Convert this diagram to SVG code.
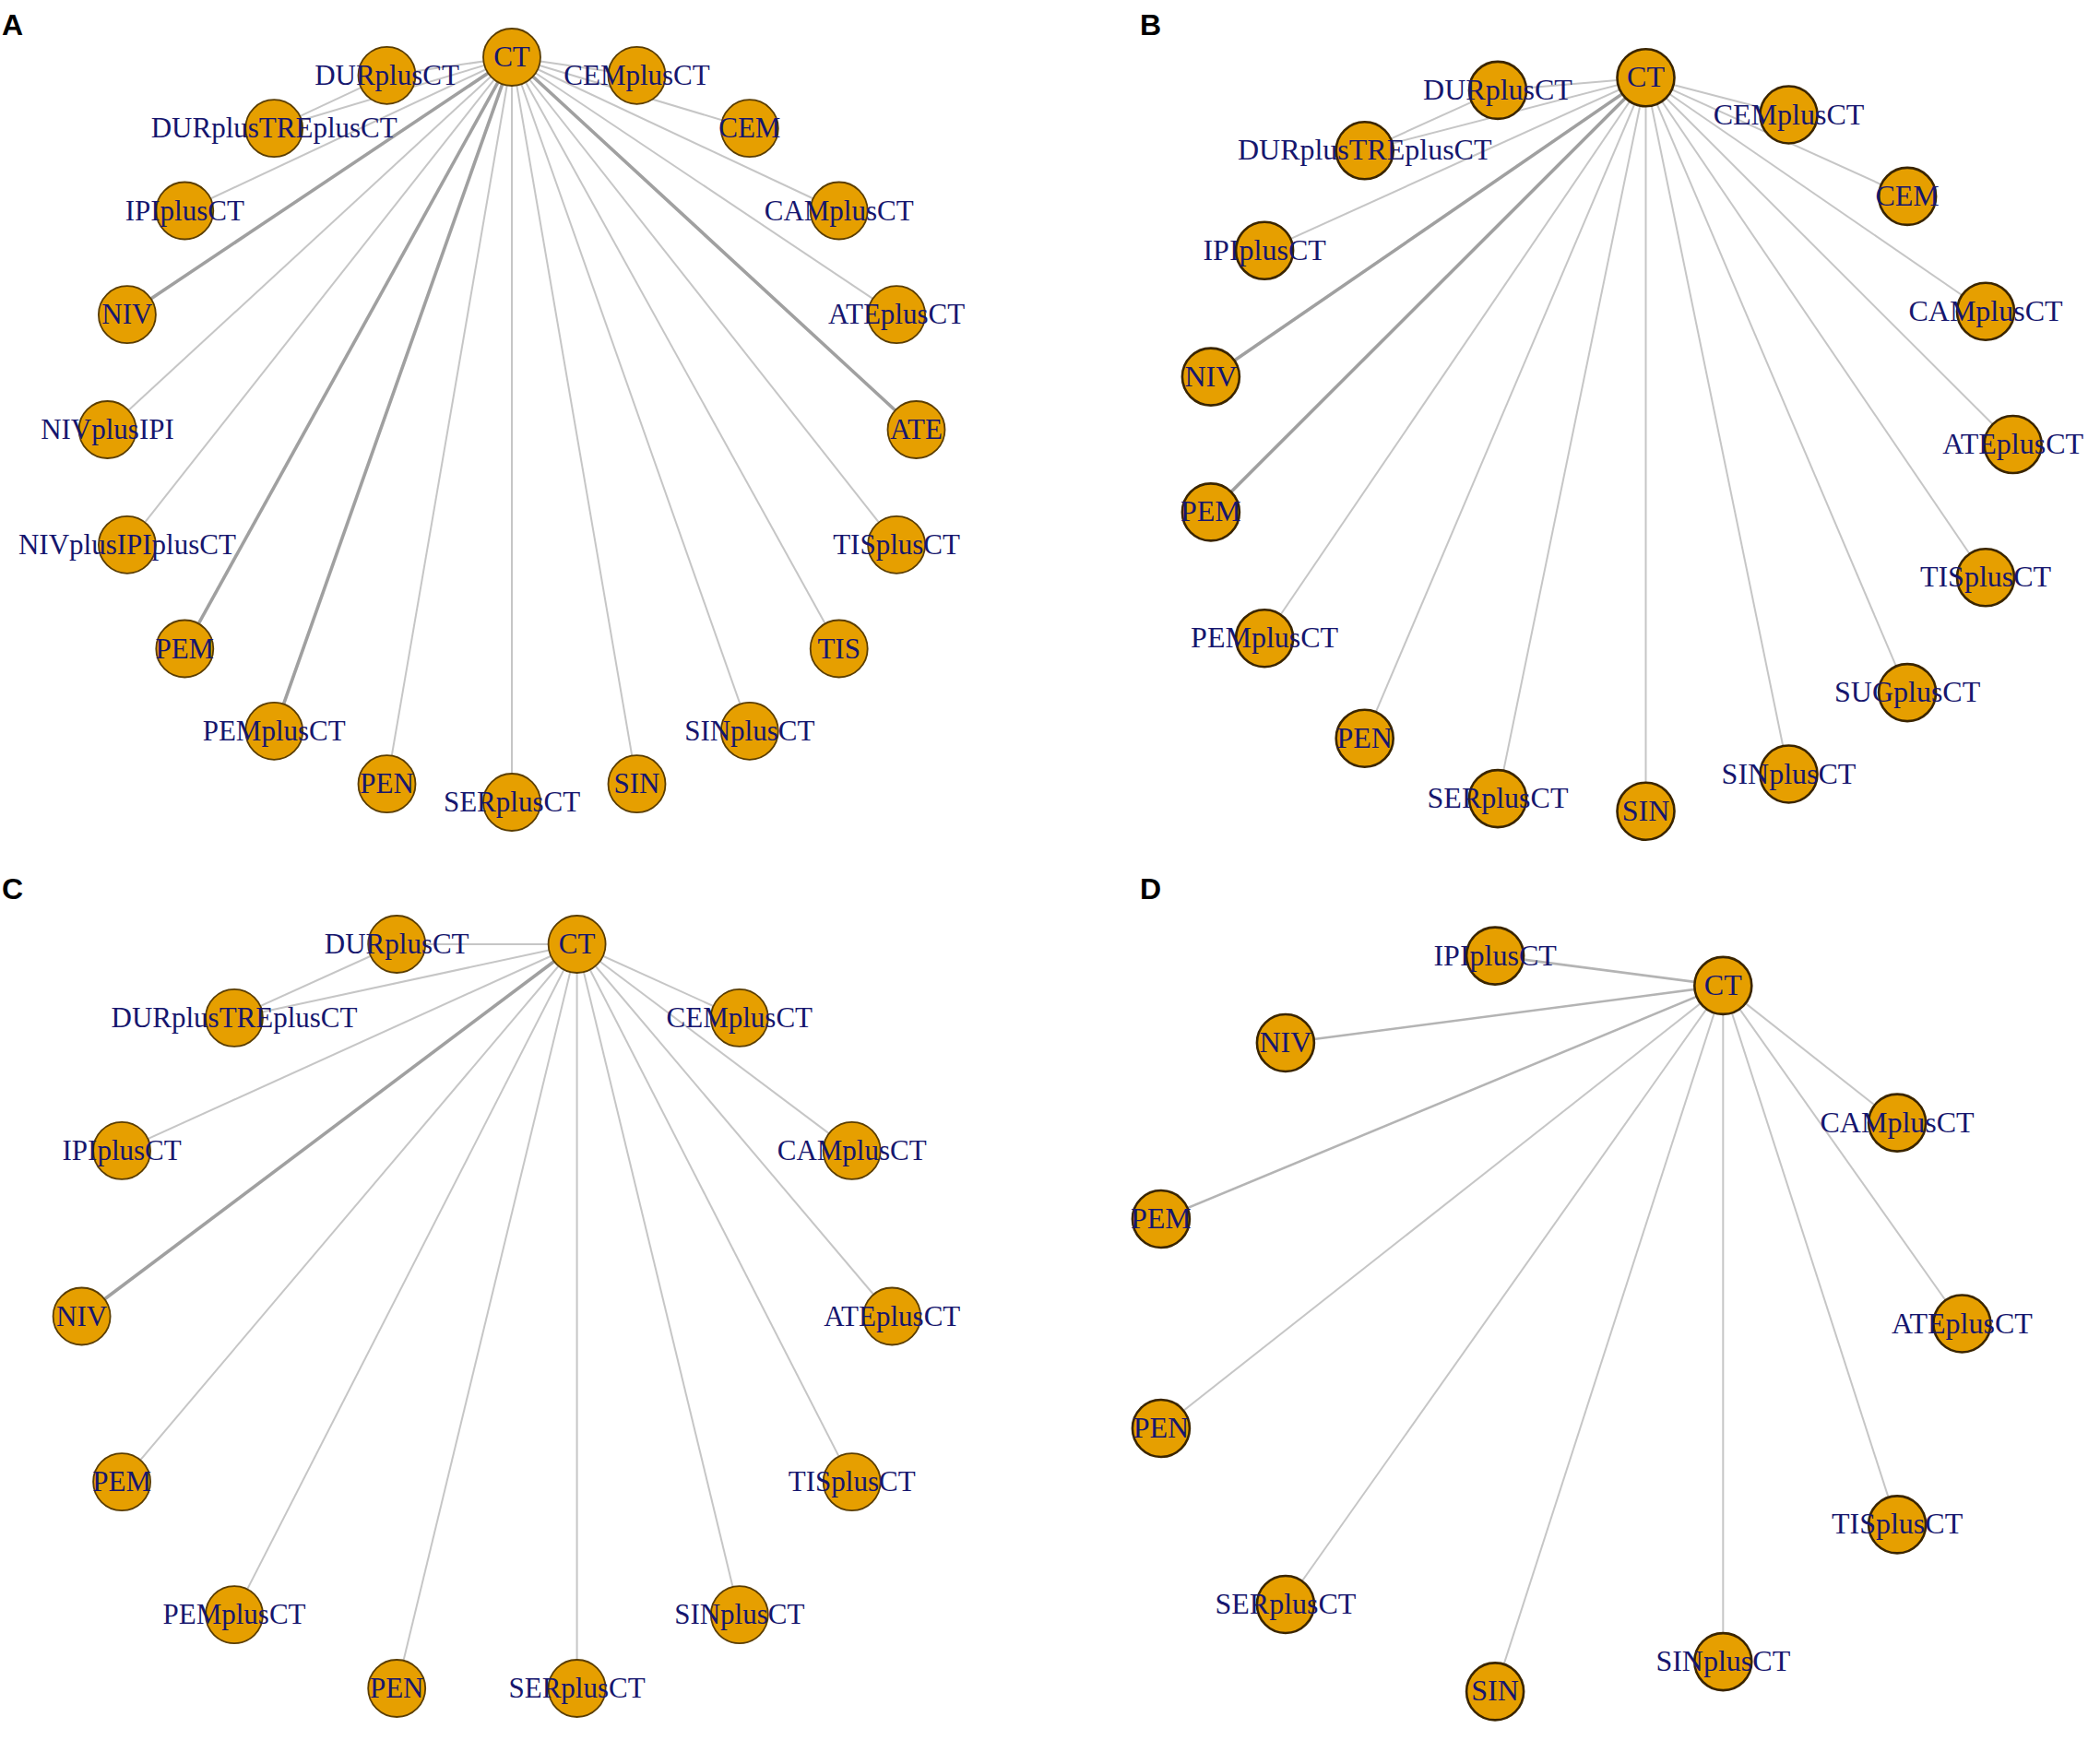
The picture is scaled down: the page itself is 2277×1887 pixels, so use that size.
<svg xmlns="http://www.w3.org/2000/svg" width="2277" height="1887" viewBox="0 0 2277 1887">
<style>
.bg{fill:#ffffff}
.e{stroke:#c6c6c6;stroke-width:2;fill:none}
.et{stroke:#a0a0a0;stroke-width:3.6;fill:none}
.em{stroke:#b4b4b4;stroke-width:2.6;fill:none}
.n{fill:#E69F00;stroke:#5a3d00;stroke-width:1.8}
.n2{fill:#E69F00;stroke:#3a2500;stroke-width:2.6}
.t{font-family:"Liberation Serif","Times New Roman",serif;font-size:31px;fill:#16166e;text-anchor:middle}
.t2{font-family:"Liberation Serif","Times New Roman",serif;font-size:32px;fill:#16166e;text-anchor:middle}
.p{font-family:"Liberation Sans",Arial,sans-serif;font-size:32px;font-weight:bold;fill:#000000}
</style>
<rect class="bg" x="0" y="0" width="2277" height="1887"/>
<g id="panel-labels">
<text class="p" x="2" y="38">A</text>
<text class="p" x="1236" y="38">B</text>
<text class="p" x="2" y="975">C</text>
<text class="p" x="1236" y="975">D</text>
</g>
<g id="connectors">
<g id="edges-A">
<line class="et" x1="555" y1="62" x2="993.5" y2="466"/>
<line class="e" x1="555" y1="62" x2="972.1" y2="341.2"/>
<line class="e" x1="555" y1="62" x2="909.7" y2="228.5"/>
<line class="e" x1="555" y1="62" x2="812.8" y2="139.2"/>
<line class="e" x1="555" y1="62" x2="690.5" y2="81.8"/>
<line class="e" x1="555" y1="62" x2="419.5" y2="81.8"/>
<line class="e" x1="555" y1="62" x2="297.2" y2="139.2"/>
<line class="e" x1="419.5" y1="81.8" x2="297.2" y2="139.2"/>
<line class="e" x1="555" y1="62" x2="200.3" y2="228.5"/>
<line class="et" x1="555" y1="62" x2="137.9" y2="341.2"/>
<line class="e" x1="555" y1="62" x2="116.5" y2="466"/>
<line class="e" x1="555" y1="62" x2="137.9" y2="590.8"/>
<line class="et" x1="555" y1="62" x2="200.3" y2="703.5"/>
<line class="et" x1="555" y1="62" x2="297.2" y2="792.8"/>
<line class="e" x1="555" y1="62" x2="419.5" y2="850.2"/>
<line class="e" x1="555" y1="62" x2="555" y2="870"/>
<line class="e" x1="555" y1="62" x2="690.5" y2="850.2"/>
<line class="e" x1="555" y1="62" x2="812.8" y2="792.8"/>
<line class="e" x1="555" y1="62" x2="909.7" y2="703.5"/>
<line class="e" x1="555" y1="62" x2="972.1" y2="590.8"/>
</g>
<g id="edges-B">
<line class="e" x1="1784.5" y1="84.3" x2="2182.6" y2="482"/>
<line class="e" x1="1784.5" y1="84.3" x2="2153" y2="337.7"/>
<line class="e" x1="1784.5" y1="84.3" x2="2068.1" y2="212.9"/>
<line class="e" x1="1784.5" y1="84.3" x2="1939.5" y2="124.5"/>
<line class="e" x1="1784.5" y1="84.3" x2="1624" y2="97.9"/>
<line class="e" x1="1784.5" y1="84.3" x2="1479.7" y2="163.3"/>
<line class="e" x1="1624" y1="97.9" x2="1479.7" y2="163.3"/>
<line class="e" x1="1784.5" y1="84.3" x2="1371.1" y2="271.8"/>
<line class="et" x1="1784.5" y1="84.3" x2="1312.9" y2="408.6"/>
<line class="et" x1="1784.5" y1="84.3" x2="1312.9" y2="555.4"/>
<line class="e" x1="1784.5" y1="84.3" x2="1371.1" y2="692.2"/>
<line class="e" x1="1784.5" y1="84.3" x2="1479.7" y2="800.7"/>
<line class="e" x1="1784.5" y1="84.3" x2="1624" y2="866.1"/>
<line class="e" x1="1784.5" y1="84.3" x2="1784.5" y2="879.7"/>
<line class="e" x1="1784.5" y1="84.3" x2="1939.5" y2="839.5"/>
<line class="e" x1="1784.5" y1="84.3" x2="2068.1" y2="751.1"/>
<line class="e" x1="1784.5" y1="84.3" x2="2153" y2="626.3"/>
</g>
<g id="edges-C">
<line class="e" x1="625.6" y1="1024" x2="967.2" y2="1427.5"/>
<line class="e" x1="625.6" y1="1024" x2="923.7" y2="1247.9"/>
<line class="e" x1="625.6" y1="1024" x2="801.8" y2="1103.9"/>
<line class="e" x1="625.6" y1="1024" x2="430.2" y2="1024"/>
<line class="e" x1="625.6" y1="1024" x2="254" y2="1103.9"/>
<line class="e" x1="430.2" y1="1024" x2="254" y2="1103.9"/>
<line class="e" x1="625.6" y1="1024" x2="132.1" y2="1247.9"/>
<line class="et" x1="625.6" y1="1024" x2="88.6" y2="1427.5"/>
<line class="e" x1="625.6" y1="1024" x2="132.1" y2="1607.1"/>
<line class="e" x1="625.6" y1="1024" x2="254" y2="1751.1"/>
<line class="e" x1="625.6" y1="1024" x2="430.2" y2="1831"/>
<line class="e" x1="625.6" y1="1024" x2="625.6" y2="1831"/>
<line class="e" x1="625.6" y1="1024" x2="801.8" y2="1751.1"/>
<line class="e" x1="625.6" y1="1024" x2="923.7" y2="1607.1"/>
</g>
<g id="edges-D">
<line class="e" x1="1868.3" y1="1068.9" x2="2127.4" y2="1435.5"/>
<line class="e" x1="1868.3" y1="1068.9" x2="2057.1" y2="1217.6"/>
<line class="em" x1="1868.3" y1="1068.9" x2="1621.1" y2="1036.6"/>
<line class="em" x1="1868.3" y1="1068.9" x2="1393.9" y2="1131"/>
<line class="em" x1="1868.3" y1="1068.9" x2="1258.9" y2="1322"/>
<line class="e" x1="1868.3" y1="1068.9" x2="1258.9" y2="1549"/>
<line class="e" x1="1868.3" y1="1068.9" x2="1393.9" y2="1740"/>
<line class="e" x1="1868.3" y1="1068.9" x2="1621.1" y2="1834.4"/>
<line class="e" x1="1868.3" y1="1068.9" x2="1868.3" y2="1802.1"/>
<line class="e" x1="1868.3" y1="1068.9" x2="2057.1" y2="1653.4"/>
</g>
</g>
<g id="A-ATE"><circle class="n" cx="993.5" cy="466" r="31"/><text class="t" x="993.5" y="476">ATE</text></g>
<g id="A-ATEplusCT"><circle class="n" cx="972.1" cy="341.2" r="31"/><text class="t" x="972.1" y="351.2">ATEplusCT</text></g>
<g id="A-CAMplusCT"><circle class="n" cx="909.7" cy="228.5" r="31"/><text class="t" x="909.7" y="238.5">CAMplusCT</text></g>
<g id="A-CEM"><circle class="n" cx="812.8" cy="139.2" r="31"/><text class="t" x="812.8" y="149.2">CEM</text></g>
<g id="A-CEMplusCT"><circle class="n" cx="690.5" cy="81.8" r="31"/><text class="t" x="690.5" y="91.8">CEMplusCT</text></g>
<g id="A-CT"><circle class="n" cx="555" cy="62" r="31"/><text class="t" x="555" y="72">CT</text></g>
<g id="A-DURplusCT"><circle class="n" cx="419.5" cy="81.8" r="31"/><text class="t" x="419.5" y="91.8">DURplusCT</text></g>
<g id="A-DURplusTREplusCT"><circle class="n" cx="297.2" cy="139.2" r="31"/><text class="t" x="297.2" y="149.2">DURplusTREplusCT</text></g>
<g id="A-IPIplusCT"><circle class="n" cx="200.3" cy="228.5" r="31"/><text class="t" x="200.3" y="238.5">IPIplusCT</text></g>
<g id="A-NIV"><circle class="n" cx="137.9" cy="341.2" r="31"/><text class="t" x="137.9" y="351.2">NIV</text></g>
<g id="A-NIVplusIPI"><circle class="n" cx="116.5" cy="466" r="31"/><text class="t" x="116.5" y="476">NIVplusIPI</text></g>
<g id="A-NIVplusIPIplusCT"><circle class="n" cx="137.9" cy="590.8" r="31"/><text class="t" x="137.9" y="600.8">NIVplusIPIplusCT</text></g>
<g id="A-PEM"><circle class="n" cx="200.3" cy="703.5" r="31"/><text class="t" x="200.3" y="713.5">PEM</text></g>
<g id="A-PEMplusCT"><circle class="n" cx="297.2" cy="792.8" r="31"/><text class="t" x="297.2" y="802.8">PEMplusCT</text></g>
<g id="A-PEN"><circle class="n" cx="419.5" cy="850.2" r="31"/><text class="t" x="419.5" y="860.2">PEN</text></g>
<g id="A-SERplusCT"><circle class="n" cx="555" cy="870" r="31"/><text class="t" x="555" y="880">SERplusCT</text></g>
<g id="A-SIN"><circle class="n" cx="690.5" cy="850.2" r="31"/><text class="t" x="690.5" y="860.2">SIN</text></g>
<g id="A-SINplusCT"><circle class="n" cx="812.8" cy="792.8" r="31"/><text class="t" x="812.8" y="802.8">SINplusCT</text></g>
<g id="A-TIS"><circle class="n" cx="909.7" cy="703.5" r="31"/><text class="t" x="909.7" y="713.5">TIS</text></g>
<g id="A-TISplusCT"><circle class="n" cx="972.1" cy="590.8" r="31"/><text class="t" x="972.1" y="600.8">TISplusCT</text></g>
<g id="B-ATEplusCT"><circle class="n2" cx="2182.6" cy="482" r="31"/><text class="t2" x="2182.6" y="492">ATEplusCT</text></g>
<g id="B-CAMplusCT"><circle class="n2" cx="2153" cy="337.7" r="31"/><text class="t2" x="2153" y="347.7">CAMplusCT</text></g>
<g id="B-CEM"><circle class="n2" cx="2068.1" cy="212.9" r="31"/><text class="t2" x="2068.1" y="222.9">CEM</text></g>
<g id="B-CEMplusCT"><circle class="n2" cx="1939.5" cy="124.5" r="31"/><text class="t2" x="1939.5" y="134.5">CEMplusCT</text></g>
<g id="B-CT"><circle class="n2" cx="1784.5" cy="84.3" r="31"/><text class="t2" x="1784.5" y="94.3">CT</text></g>
<g id="B-DURplusCT"><circle class="n2" cx="1624" cy="97.9" r="31"/><text class="t2" x="1624" y="107.9">DURplusCT</text></g>
<g id="B-DURplusTREplusCT"><circle class="n2" cx="1479.7" cy="163.3" r="31"/><text class="t2" x="1479.7" y="173.3">DURplusTREplusCT</text></g>
<g id="B-IPIplusCT"><circle class="n2" cx="1371.1" cy="271.8" r="31"/><text class="t2" x="1371.1" y="281.8">IPIplusCT</text></g>
<g id="B-NIV"><circle class="n2" cx="1312.9" cy="408.6" r="31"/><text class="t2" x="1312.9" y="418.6">NIV</text></g>
<g id="B-PEM"><circle class="n2" cx="1312.9" cy="555.4" r="31"/><text class="t2" x="1312.9" y="565.4">PEM</text></g>
<g id="B-PEMplusCT"><circle class="n2" cx="1371.1" cy="692.2" r="31"/><text class="t2" x="1371.1" y="702.2">PEMplusCT</text></g>
<g id="B-PEN"><circle class="n2" cx="1479.7" cy="800.7" r="31"/><text class="t2" x="1479.7" y="810.7">PEN</text></g>
<g id="B-SERplusCT"><circle class="n2" cx="1624" cy="866.1" r="31"/><text class="t2" x="1624" y="876.1">SERplusCT</text></g>
<g id="B-SIN"><circle class="n2" cx="1784.5" cy="879.7" r="31"/><text class="t2" x="1784.5" y="889.7">SIN</text></g>
<g id="B-SINplusCT"><circle class="n2" cx="1939.5" cy="839.5" r="31"/><text class="t2" x="1939.5" y="849.5">SINplusCT</text></g>
<g id="B-SUGplusCT"><circle class="n2" cx="2068.1" cy="751.1" r="31"/><text class="t2" x="2068.1" y="761.1">SUGplusCT</text></g>
<g id="B-TISplusCT"><circle class="n2" cx="2153" cy="626.3" r="31"/><text class="t2" x="2153" y="636.3">TISplusCT</text></g>
<g id="C-ATEplusCT"><circle class="n" cx="967.2" cy="1427.5" r="31"/><text class="t" x="967.2" y="1437.5">ATEplusCT</text></g>
<g id="C-CAMplusCT"><circle class="n" cx="923.7" cy="1247.9" r="31"/><text class="t" x="923.7" y="1257.9">CAMplusCT</text></g>
<g id="C-CEMplusCT"><circle class="n" cx="801.8" cy="1103.9" r="31"/><text class="t" x="801.8" y="1113.9">CEMplusCT</text></g>
<g id="C-CT"><circle class="n" cx="625.6" cy="1024" r="31"/><text class="t" x="625.6" y="1034">CT</text></g>
<g id="C-DURplusCT"><circle class="n" cx="430.2" cy="1024" r="31"/><text class="t" x="430.2" y="1034">DURplusCT</text></g>
<g id="C-DURplusTREplusCT"><circle class="n" cx="254" cy="1103.9" r="31"/><text class="t" x="254" y="1113.9">DURplusTREplusCT</text></g>
<g id="C-IPIplusCT"><circle class="n" cx="132.1" cy="1247.9" r="31"/><text class="t" x="132.1" y="1257.9">IPIplusCT</text></g>
<g id="C-NIV"><circle class="n" cx="88.6" cy="1427.5" r="31"/><text class="t" x="88.6" y="1437.5">NIV</text></g>
<g id="C-PEM"><circle class="n" cx="132.1" cy="1607.1" r="31"/><text class="t" x="132.1" y="1617.1">PEM</text></g>
<g id="C-PEMplusCT"><circle class="n" cx="254" cy="1751.1" r="31"/><text class="t" x="254" y="1761.1">PEMplusCT</text></g>
<g id="C-PEN"><circle class="n" cx="430.2" cy="1831" r="31"/><text class="t" x="430.2" y="1841">PEN</text></g>
<g id="C-SERplusCT"><circle class="n" cx="625.6" cy="1831" r="31"/><text class="t" x="625.6" y="1841">SERplusCT</text></g>
<g id="C-SINplusCT"><circle class="n" cx="801.8" cy="1751.1" r="31"/><text class="t" x="801.8" y="1761.1">SINplusCT</text></g>
<g id="C-TISplusCT"><circle class="n" cx="923.7" cy="1607.1" r="31"/><text class="t" x="923.7" y="1617.1">TISplusCT</text></g>
<g id="D-ATEplusCT"><circle class="n2" cx="2127.4" cy="1435.5" r="31"/><text class="t2" x="2127.4" y="1445.5">ATEplusCT</text></g>
<g id="D-CAMplusCT"><circle class="n2" cx="2057.1" cy="1217.6" r="31"/><text class="t2" x="2057.1" y="1227.6">CAMplusCT</text></g>
<g id="D-CT"><circle class="n2" cx="1868.3" cy="1068.9" r="31"/><text class="t2" x="1868.3" y="1078.9">CT</text></g>
<g id="D-IPIplusCT"><circle class="n2" cx="1621.1" cy="1036.6" r="31"/><text class="t2" x="1621.1" y="1046.6">IPIplusCT</text></g>
<g id="D-NIV"><circle class="n2" cx="1393.9" cy="1131" r="31"/><text class="t2" x="1393.9" y="1141">NIV</text></g>
<g id="D-PEM"><circle class="n2" cx="1258.9" cy="1322" r="31"/><text class="t2" x="1258.9" y="1332">PEM</text></g>
<g id="D-PEN"><circle class="n2" cx="1258.9" cy="1549" r="31"/><text class="t2" x="1258.9" y="1559">PEN</text></g>
<g id="D-SERplusCT"><circle class="n2" cx="1393.9" cy="1740" r="31"/><text class="t2" x="1393.9" y="1750">SERplusCT</text></g>
<g id="D-SIN"><circle class="n2" cx="1621.1" cy="1834.4" r="31"/><text class="t2" x="1621.1" y="1844.4">SIN</text></g>
<g id="D-SINplusCT"><circle class="n2" cx="1868.3" cy="1802.1" r="31"/><text class="t2" x="1868.3" y="1812.1">SINplusCT</text></g>
<g id="D-TISplusCT"><circle class="n2" cx="2057.1" cy="1653.4" r="31"/><text class="t2" x="2057.1" y="1663.4">TISplusCT</text></g>
</svg>
